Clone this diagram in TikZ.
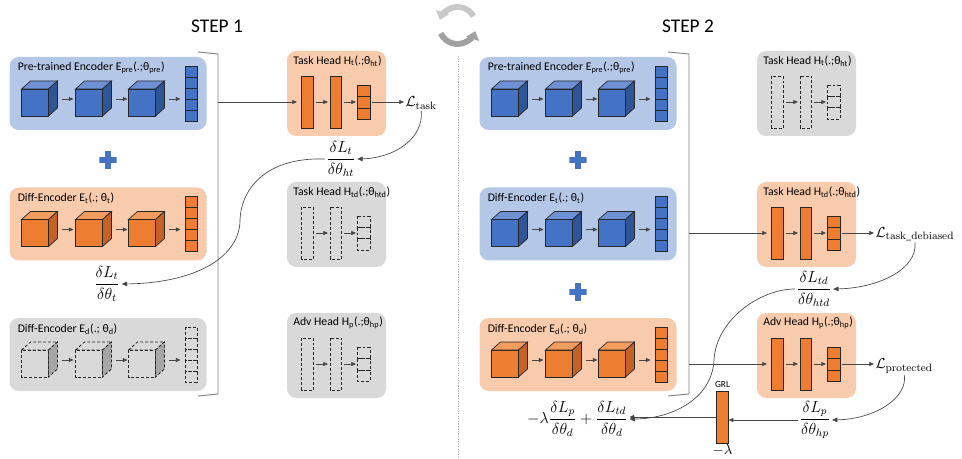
\documentclass[tikz,border=0pt]{standalone}
\usepackage{amsmath}
\usepackage[no-math]{fontspec}
\setmainfont{Carlito}
\usetikzlibrary{arrows.meta}

\definecolor{bluebox}{RGB}{180,199,231}
\definecolor{orangebox}{RGB}{248,203,173}
\definecolor{greybox}{RGB}{217,217,217}
\definecolor{bluecube}{RGB}{68,114,196}
\definecolor{bluetop}{RGB}{110,145,214}
\definecolor{blueside}{RGB}{47,85,151}
\definecolor{orangecube}{RGB}{237,125,49}
\definecolor{orangetop}{RGB}{242,156,94}
\definecolor{orangeside}{RGB}{196,98,38}
\definecolor{ghostside}{RGB}{166,166,166}
\definecolor{edgecol}{RGB}{38,38,38}
\definecolor{linecol}{RGB}{70,70,70}
\definecolor{cyclight}{RGB}{200,200,200}
\definecolor{cycdark}{RGB}{160,160,160}

\tikzset{
  box title/.style={anchor=west, inner sep=0pt, font=\fontsize{8.8}{10}\selectfont},
  step title/.style={font=\fontsize{14.5}{17}\selectfont},
  blue box/.style={fill=bluebox, rounded corners=7pt},
  orange box/.style={fill=orangebox, rounded corners=7pt},
  ghost box/.style={fill=greybox, rounded corners=7pt},
  blue front/.style={fill=bluecube, draw=edgecol, line width=0.5pt},
  blue top/.style={fill=bluetop, draw=edgecol, line width=0.5pt},
  blue side/.style={fill=blueside, draw=edgecol, line width=0.5pt},
  blue bar/.style={fill=bluecube, draw=edgecol, line width=0.5pt},
  orange front/.style={fill=orangecube, draw=edgecol, line width=0.5pt},
  orange top/.style={fill=orangetop, draw=edgecol, line width=0.5pt},
  orange side/.style={fill=orangeside, draw=edgecol, line width=0.5pt},
  orange bar/.style={fill=orangecube, draw=edgecol, line width=0.5pt},
  ghost front/.style={draw=edgecol, line width=0.6pt, dash pattern=on 2.2pt off 1.5pt},
  ghost top/.style={draw=edgecol, line width=0.6pt, dash pattern=on 2.2pt off 1.5pt},
  ghost side/.style={fill=ghostside, draw=edgecol, line width=0.6pt, dash pattern=on 2.2pt off 1.5pt},
  ghost bar/.style={draw=edgecol, line width=0.6pt, dash pattern=on 2.2pt off 1.5pt},
  flow/.style={draw=linecol, line width=0.5pt, -{Triangle[length=3.5pt,width=3pt]}},
  grad/.style={draw=linecol, line width=0.5pt, -{Triangle[length=4pt,width=3.5pt]}},
  bracket/.style={draw=gray, line width=0.7pt},
  divider/.style={draw=gray!60, densely dotted, line width=0.9pt},
  cycle arrow/.style={line width=4.4pt, -{Triangle[length=6pt,width=10pt]}},
  plus/.style={minimum size=13pt, inner sep=0pt, path picture={
    \fill[bluecube] ([xshift=-6.5pt,yshift=-2.1pt]path picture bounding box.center)
      rectangle ([xshift=6.5pt,yshift=2.1pt]path picture bounding box.center);
    \fill[bluecube] ([xshift=-2.1pt,yshift=-6.5pt]path picture bounding box.center)
      rectangle ([xshift=2.1pt,yshift=6.5pt]path picture bounding box.center);}},
  loss/.style={inner sep=1pt, font=\fontsize{11}{13}\selectfont},
  frac/.style={inner sep=1pt, font=\fontsize{12}{14}\selectfont},
  grl bar/.style={orange bar, minimum width=8.7pt, minimum height=39pt, inner sep=0pt},
  small label/.style={inner sep=1pt, font=\fontsize{7}{8}\selectfont}
}

% encoder block: name, x, y, kind, title
\newcommand{\drawencoder}[5]{%
\begin{scope}[shift={(#2,#3)}]
\path[#4 box] (0,0) rectangle (197,73);
\node[box title] (#1-title) at (8,11) {#5};
\foreach \cx [count=\i] in {12,66,119}{
  \path[#4 front] (\cx,32) rectangle ++(27,27);
  \path[#4 top] (\cx,32) -- ++(9,-8) -- ++(27,0) -- ++(-9,8) -- cycle;
  \path[#4 side] (\cx+27,32) -- ++(9,-8) -- ++(0,27) -- ++(-9,8) -- cycle;
  \coordinate (#1-o\i) at (\cx+40,42);
  \coordinate (#1-i\i) at (\cx+52,42);
  \draw[flow] (#1-o\i) -- (#1-i\i);
}
\foreach \k in {0,...,4}
  \path[#4 bar] (176,9+11*\k) rectangle ++(11.5,11);
\end{scope}}

% head block: name, x, y, kind, title
\newcommand{\drawhead}[5]{%
\begin{scope}[shift={(#2,#3)}]
\path[#4 box] (0,0) rectangle (99,85);
\node[box title] (#1-title) at (6,10) {#5};
\path[#4 bar] (14.7,25) rectangle (26.7,77);
\path[#4 bar] (43,25) rectangle (54.7,77);
\foreach \k in {0,1,2}
  \path[#4 bar] (70.7,34.3+11.3*\k) rectangle ++(12.3,11.3);
\coordinate (#1-in) at (10,51);
\coordinate (#1-out) at (84.7,51);
\coordinate (#1-a1) at (29,51);
\coordinate (#1-b1) at (41,51);
\coordinate (#1-a2) at (57,51);
\coordinate (#1-b2) at (69,51);
\draw[flow] (#1-a1) -- (#1-b1);
\draw[flow] (#1-a2) -- (#1-b2);
\end{scope}}

\begin{document}
\begin{tikzpicture}[x=0.75pt,y=0.75pt,yscale=-1,xscale=1]
\useasboundingbox (0,0) rectangle (962,459);
%Titles
\node[step title] (step1) at (217,26) {STEP 1};
\node[step title] (step2) at (688,26) {STEP 2};
%Cycle icon
\begin{scope}[shift={(457.5,25.5)},yscale=-1]
\draw[cycle arrow, cyclight] (30:18.5) arc[start angle=30,end angle=162,radius=18.5];
\draw[cycle arrow, cycdark] (205:18.5) arc[start angle=205,end angle=342,radius=18.5];
\end{scope}
%Divider
\draw[divider] (458.5,56) -- (458.5,459);

%STEP 1 encoders
\drawencoder{pre1}{9.5}{57}{blue}{Pre-trained Encoder E\textsubscript{pre}(.;θ\textsubscript{pre})}
\node[plus] (plus1) at (108,160) {};
\drawencoder{et1}{9.5}{187.5}{orange}{Diff-Encoder E\textsubscript{t}(.; θ\textsubscript{t})}
\drawencoder{ed1}{9.5}{318}{ghost}{Diff-Encoder E\textsubscript{d}(.; θ\textsubscript{d})}
\draw[bracket] (198,52) -- (218,54) -- (218,394) -- (198,396);
\coordinate (br1) at (218,102);
%STEP 1 heads
\drawhead{ht1}{287}{51}{orange}{Task Head H\textsubscript{t}(.;θ\textsubscript{ht})}
\drawhead{htd1}{287}{182}{ghost}{Task Head H\textsubscript{td}(.;θ\textsubscript{htd})}
\drawhead{hp1}{287}{313}{ghost}{Adv Head H\textsubscript{p}(.;θ\textsubscript{hp})}
\draw[flow] (br1) -- (ht1-in);
\node[loss, anchor=west] (task1) at (404,103) {$\mathcal{L}_{\mathrm{task}}$};
\draw[flow] (ht1-out) -- (ht1-out -| task1.west);
%STEP 1 gradients
\node[frac] (g1) at (341,159) {$\dfrac{\delta L_t}{\delta\theta_{ht}}$};
\node[frac] (g2) at (107,284) {$\dfrac{\delta L_t}{\delta\theta_{t}}$};
\draw[grad] (task1.south) .. controls (424,138) and (395,158) .. (g1.east);
\draw[grad] (g1.west) .. controls (265,157) and (240,190) .. (240,222)
  .. controls (238,258) and (195,283) .. (g2.east);

%STEP 2 encoders
\drawencoder{pre2}{479.5}{57}{blue}{Pre-trained Encoder E\textsubscript{pre}(.;θ\textsubscript{pre})}
\node[plus] (plus2) at (578,160) {};
\drawencoder{et2}{479.5}{187.5}{blue}{Diff-Encoder E\textsubscript{t}(.; θ\textsubscript{t})}
\node[plus] (plus3) at (578,292) {};
\drawencoder{ed2}{479.5}{318}{orange}{Diff-Encoder E\textsubscript{d}(.; θ\textsubscript{d})}
\draw[bracket] (668,52) -- (689,54) -- (689,394) -- (668,396);
\coordinate (br2a) at (689,233);
\coordinate (br2b) at (689,364);
%STEP 2 heads
\drawhead{ht2}{757}{51}{ghost}{Task Head H\textsubscript{t}(.;θ\textsubscript{ht})}
\drawhead{htd2}{757}{182}{orange}{Task Head H\textsubscript{td}(.;θ\textsubscript{htd})}
\drawhead{hp2}{757}{313}{orange}{Adv Head H\textsubscript{p}(.;θ\textsubscript{hp})}
\draw[flow] (br2a) -- (htd2-in);
\draw[flow] (br2b) -- (hp2-in);
\node[loss, anchor=west] (task2) at (874,234) {$\mathcal{L}_{\mathrm{task\_debiased}}$};
\node[loss, anchor=west] (prot2) at (874,366) {$\mathcal{L}_{\mathrm{protected}}$};
\draw[flow] (htd2-out) -- (htd2-out -| task2.west);
\draw[flow] (hp2-out) -- (hp2-out -| prot2.west);
%STEP 2 gradients
\node[frac] (g3) at (814,289) {$\dfrac{\delta L_{td}}{\delta\theta_{htd}}$};
\node[frac] (g4) at (815,420) {$\dfrac{\delta L_{p}}{\delta\theta_{hp}}$};
\node[grl bar] (grl) at (722.5,417) {};
\node[small label, above=1pt] (grl-top) at (grl.north) {GRL};
\node[inner sep=0.5pt, below=0pt, font=\fontsize{11}{12}\selectfont] (lam) at (grl.south) {$-\lambda$};
\node[frac] (f1) at (577.5,419) {$-\lambda\dfrac{\delta L_p}{\delta\theta_d}+\dfrac{\delta L_{td}}{\delta\theta_d}$};
\draw[grad] (task2.south) .. controls (918,268) and (880,288) .. (g3.east);
\draw[grad] (g3.west) .. controls (760,289) and (716,320) .. (714,360)
  .. controls (712,400) and (670,419) .. (f1.east);
\draw[grad] (prot2.south) .. controls (908,398) and (875,419) .. (g4.east);
\draw[flow] (g4.west) -- (g4.west -| grl.east);
\draw[flow] (grl.west) -- (grl.west -| f1.east);
\end{tikzpicture}
\end{document}
